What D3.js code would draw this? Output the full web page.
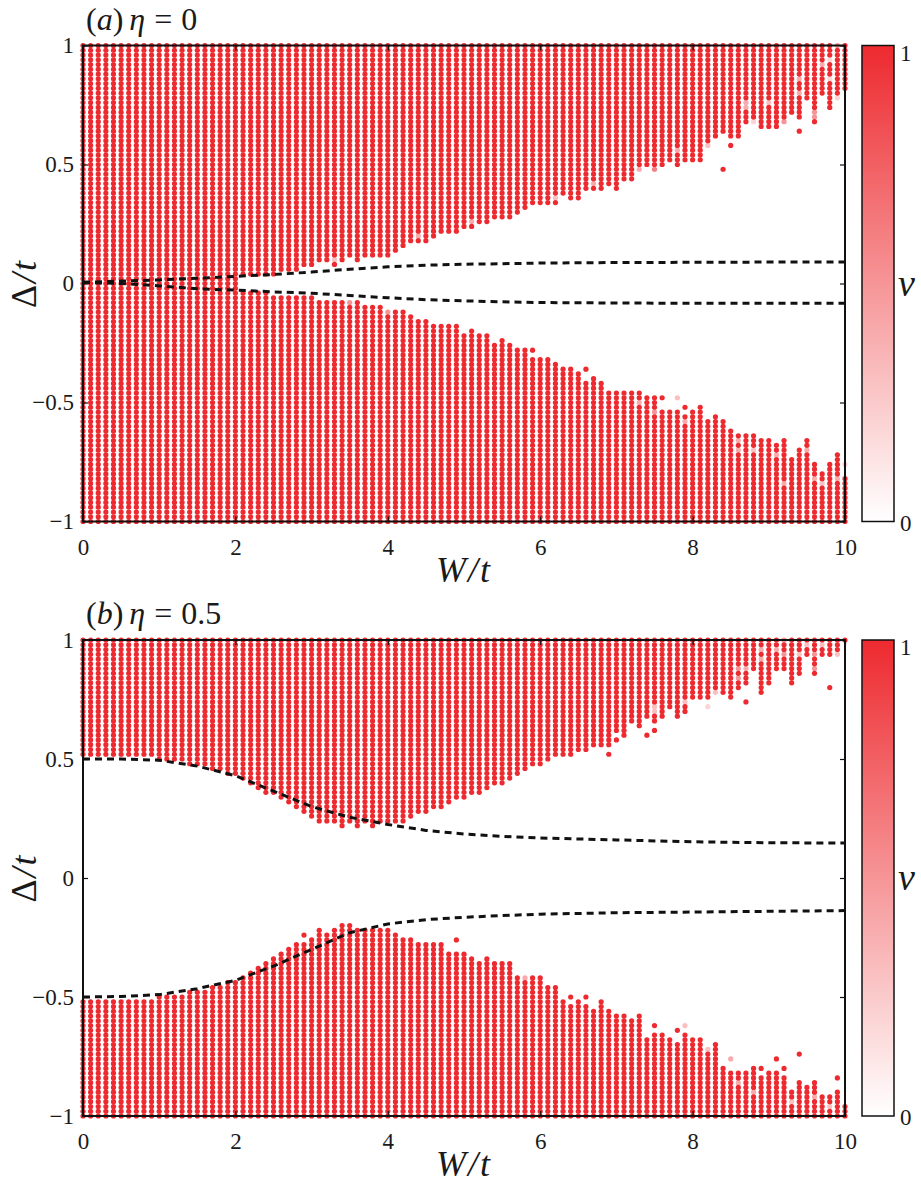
<!DOCTYPE html>
<html>
<head>
<meta charset="utf-8">
<script src="https://cdn.jsdelivr.net/npm/d3@7"></script>
<style>
body { margin: 0; background: #fff; }
text { font-family: "Liberation Serif", "DejaVu Serif", serif; fill: #1a1a1a; }
</style>
</head>
<body>
<div id="chart"></div>
<script>
// grid: 101 columns in W/t (step 0.1), rows in Delta/t every 0.02
// boundaries are in units of Delta/t * 100, one value per W column
// upper block is filled from "up" to +1, lower block from -1 to "lo"

var aUp = [0,0,0,0,0,0,0,0,0,0,
  0,0,0,0,0,2,2,2,2,2,
  2,4,4,4,4,4,6,6,6,
  8,8,10,10,8,10,12,10,12,12,12,
  12,14,16,18,18,18,20,22,22,22,
  24,24,26,26,28,28,28,30,32,34,
  34,34,34,38,36,36,40,40,
  40,42,40,44,44,48,50,48,50,52,50,52,
  52,52,60,62,64,62,62,68,68,66,
  66,66,68,72,70,78,68,80,74,80,82];

var aLo = [0,0,0,0,0,0,0,0,0,0,
  0,0,0,0,0,0,0,0,0,0,
  0,-4,-4,-4,-4,-6,-6,-6,-6,
  -6,-6,-8,-8,-8,-8,-8,-8,-10,-10,-10,
  -12,-12,-12,-14,-16,-16,-18,-18,-18,-18,
  -22,-20,-22,-22,-26,-24,-26,-28,-28,-32,
  -32,-32,-34,-36,-38,-38,-42,-40,
  -42,-46,-46,-46,-46,-46,-48,-48,-54,-54,-54,-56,
  -54,-52,-58,-56,-58,-62,-64,-64,-64,-66,
  -66,-68,-66,-74,-70,-66,-76,-80,-76,-72,-82];

var bUp = [52,52,52,52,52,52,52,52,52,52,
  50,50,50,50,48,48,48,46,46,44,
  44,42,40,38,36,36,34,32,30,
  28,26,24,24,24,22,24,22,24,22,24,
  24,24,24,26,28,28,30,30,32,34,
  34,36,36,38,40,40,42,44,46,48,
  48,50,52,52,52,54,54,56,
  56,56,62,60,66,64,68,66,68,72,68,70,
  76,76,76,80,78,76,80,82,88,78,
  82,88,88,82,86,94,86,94,94,94,100];

var bLo = [-52,-52,-52,-52,-52,-52,-52,-52,-52,-52,
  -50,-50,-50,-50,-48,-48,-48,-46,-46,-44,
  -44,-42,-40,-38,-36,-34,-32,-30,-28,
  -28,-26,-22,-24,-22,-20,-20,-22,-22,-22,-22,
  -22,-24,-26,-26,-28,-28,-28,-28,-32,-32,
  -32,-34,-36,-34,-36,-36,-36,-42,-44,-42,
  -42,-46,-46,-52,-54,-52,-54,-56,
  -52,-56,-58,-58,-60,-58,-68,-66,-66,-68,-70,-66,
  -68,-68,-72,-70,-80,-82,-82,-82,-80,-84,
  -82,-82,-84,-90,-86,-88,-86,-92,-92,-90,-96];

// single points: [column, Delta*100, nu]
var aExtra = [[84,48,1],[85,58,1],[94,64,1],[80,58,1],[73,48,0.4],[75,48,0.6],[78,56,0.4],
  [82,58,0.3],[87,74,0.4],[87,76,0.4],[88,68,0.2],[90,76,0.3],[92,68,0.5],[94,80,0.4],
  [94,86,0.4],[96,72,0.5],[96,70,0.5],[97,92,0.4],[98,94,0.2],[98,86,0.2],[99,100,0.5],
  [99,78,0.2],[33,10,0.3],[44,20,0.4],[51,26,0.4],[62,36,0.3],[67,42,0.4],
  [59,-28,1],[64,-36,1],[66,-36,1],[76,-48,1],[78,-48,0.3],[79,-52,1],[73,-50,0.4],
  [75,-54,0.5],[79,-58,0.4],[86,-66,0.4],[86,-70,0.4],[88,-70,0.3],[91,-72,0.4],
  [92,-84,0.4],[95,-70,0.4],[96,-82,0.4],[97,-84,0.3],[99,-82,0.4],[100,-76,0.2],
  [35,-8,0.5],[40,-12,0.5]];

var bExtra = [[69,52,1],[70,58,1],[74,60,1],[75,62,1],[87,74,1],[98,80,1],[75,72,0.3],
  [75,70,0.3],[79,74,0.3],[82,72,0.2],[83,78,0.3],[86,84,0.5],[86,88,0.5],[87,88,0.4],
  [89,96,0.4],[89,92,0.4],[91,96,0.4],[92,100,0.5],[92,94,0.5],[94,94,0.3],[95,98,0.3],
  [96,94,0.5],[96,88,0.5],[97,98,0.3],[99,94,0.3],
  [29,-24,1],[49,-26,1],[64,-50,1],[66,-50,1],[75,-62,1],[78,-64,1],[79,-62,0.3],
  [82,-72,0.3],[85,-76,0.4],[89,-80,1],[91,-76,1],[92,-80,1],[94,-74,1],[99,-84,1],
  [86,-86,0.4],[88,-90,0.4],[93,-94,0.3],[96,-92,0.4],[98,-96,0.3],[58,-42,0.4]];

// dashed curves
var dashW   = [0,0.5,1,1.5,2,2.5,3,3.5,4,4.5,5,5.5,6,7,8,9,10];
var aDashUp = [0.005,0.01,0.015,0.022,0.03,0.038,0.048,0.06,0.07,0.077,0.081,0.083,0.086,0.088,0.089,0.09,0.09];
var aDashLo = [0.005,0,-0.01,-0.022,-0.028,-0.035,-0.041,-0.05,-0.06,-0.068,-0.073,-0.077,-0.08,-0.082,-0.083,-0.083,-0.083];
var bDashUp = [0.5,0.5,0.495,0.47,0.43,0.365,0.3,0.255,0.225,0.2,0.185,0.175,0.168,0.16,0.152,0.148,0.147];
var bDashLo = [-0.5,-0.498,-0.49,-0.465,-0.43,-0.37,-0.3,-0.23,-0.193,-0.175,-0.165,-0.158,-0.152,-0.146,-0.143,-0.14,-0.137];

var xTicks = [0,2,4,6,8,10];
var yTicks = [-1,-0.5,0,0.5,1];

var red = "#ed2a2f";
var nuColor = d3.interpolateRgb("#ffffff", red);
var serif = "'Liberation Serif', 'DejaVu Serif', serif";

var svg = d3.select("#chart").append("svg")
  .attr("width", 921)
  .attr("height", 1190);

var defs = svg.append("defs");
var grad = defs.append("linearGradient")
  .attr("id", "cbar")
  .attr("x1", 0).attr("y1", 1).attr("x2", 0).attr("y2", 0);
grad.append("stop").attr("offset", "0%").attr("stop-color", nuColor(0));
grad.append("stop").attr("offset", "50%").attr("stop-color", nuColor(0.5));
grad.append("stop").attr("offset", "100%").attr("stop-color", nuColor(1));

var x = d3.scaleLinear().domain([0, 10]).range([83, 845]);

function buildCells(up, lo, extra) {
  var cells = new Map();
  up.forEach(function(u, i) {
    for (var d = -100; d <= 100; d += 2) {
      if (d >= u || d <= lo[i]) cells.set(i + ":" + d, {w: i / 10, d: d / 100, nu: 1});
    }
  });
  extra.forEach(function(e) {
    cells.set(e[0] + ":" + e[1], {w: e[0] / 10, d: e[1] / 100, nu: e[2]});
  });
  return Array.from(cells.values()).sort(function(a, b) { return a.nu - b.nu; });
}

function drawPanel(top, up, lo, extra, dashUp, dashLo, letter, eta) {
  var y = d3.scaleLinear().domain([-1, 1]).range([top + 476, top]);
  var g = svg.append("g");

  // dots
  g.append("g").selectAll("circle")
    .data(buildCells(up, lo, extra))
    .enter().append("circle")
    .attr("cx", function(d) { return x(d.w); })
    .attr("cy", function(d) { return y(d.d); })
    .attr("r", 2.6)
    .style("fill", function(d) { return nuColor(d.nu); });

  // dashed lines
  var line = d3.line()
    .x(function(d, i) { return x(dashW[i]); })
    .y(function(d) { return y(d); });
  [dashUp, dashLo].forEach(function(s) {
    g.append("path")
      .attr("d", line(s))
      .style("fill", "none")
      .style("stroke", "#111")
      .style("stroke-width", 3)
      .style("stroke-dasharray", "7,5");
  });

  // axes
  g.append("g")
    .attr("transform", "translate(0," + (top + 476) + ")")
    .call(d3.axisBottom(x).tickValues(xTicks).tickSize(-5).tickPadding(17).tickFormat(d3.format("~g")));
  g.append("g")
    .attr("transform", "translate(0," + top + ")")
    .call(d3.axisTop(x).tickValues(xTicks).tickSize(-5).tickFormat(""));
  g.append("g")
    .attr("transform", "translate(83,0)")
    .call(d3.axisLeft(y).tickValues(yTicks).tickSize(-5).tickPadding(9).tickFormat(d3.format("~g")));
  g.append("g")
    .attr("transform", "translate(845,0)")
    .call(d3.axisRight(y).tickValues(yTicks).tickSize(-5).tickFormat(""));
  g.selectAll(".domain").remove();
  g.selectAll(".tick line").style("stroke", "#111").style("stroke-width", 1.2);
  g.selectAll(".tick text")
    .attr("font-family", serif)
    .style("font-family", serif)
    .style("font-size", "23px")
    .style("fill", "#1a1a1a");

  // frame
  g.append("rect")
    .attr("x", 83).attr("y", top)
    .attr("width", 762).attr("height", 476)
    .style("fill", "none").style("stroke", "#111").style("stroke-width", 2);

  // axis labels
  var xl = g.append("text")
    .attr("x", 464).attr("y", top + 536)
    .attr("text-anchor", "middle")
    .style("font-size", "36px").style("font-style", "italic")
    .style("letter-spacing", "2px");
  xl.append("tspan").text("W");
  xl.append("tspan").text("/t");

  var yl = g.append("text")
    .attr("transform", "translate(36," + (top + 238) + ") rotate(-90)")
    .attr("text-anchor", "middle")
    .style("font-size", "36px")
    .style("letter-spacing", "2px");
  yl.append("tspan").text("Δ");
  yl.append("tspan").style("font-style", "italic").text("/t");

  // title
  var tt = g.append("text")
    .attr("x", 86).attr("y", top - 16)
    .style("font-size", "32px");
  tt.append("tspan").text("(");
  tt.append("tspan").style("font-style", "italic").text(letter);
  tt.append("tspan").text(")");
  tt.append("tspan").attr("dx", 6).style("font-style", "italic").text("η");
  tt.append("tspan").attr("dx", 9).text("=");
  tt.append("tspan").attr("dx", 9).text(eta);

  // colour bar
  g.append("rect")
    .attr("x", 862).attr("y", top)
    .attr("width", 32).attr("height", 476)
    .style("fill", "url(#cbar)")
    .style("stroke", "#111").style("stroke-width", 1.5);
  g.append("text").attr("x", 900).attr("y", top + 15)
    .style("font-size", "23px").text("1");
  g.append("text").attr("x", 900).attr("y", top + 485)
    .style("font-size", "23px").text("0");
  g.append("text").attr("x", 898).attr("y", top + 250)
    .style("font-size", "38px").style("font-style", "italic").text("ν");
}

drawPanel(45.5, aUp, aLo, aExtra, aDashUp, aDashLo, "a", "0");
drawPanel(640, bUp, bLo, bExtra, bDashUp, bDashLo, "b", "0.5");
</script>
</body>
</html>
